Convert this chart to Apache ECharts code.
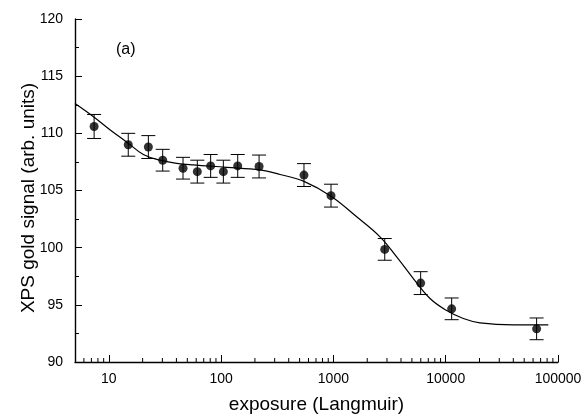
<!DOCTYPE html>
<html>
<head>
<meta charset="utf-8">
<script src="https://cdn.jsdelivr.net/npm/echarts@6/dist/echarts.min.js"></script>
<style>
html,body{margin:0;padding:0;background:#fff;}
#chart{width:583px;height:415px;}
</style>
</head>
<body>
<div id="chart"></div>
<script>
// measured points (exposure, signal, error)
var exposure=[7.4,14.9,22.5,30.2,45.8,61.4,80.7,104.7,140.6,217.8,547,952,2865,5985,11300,64500];
var signal=[110.6,109.0,108.8,107.65,106.95,106.65,107.15,106.65,107.15,107.1,106.35,104.55,99.85,96.9,94.65,92.9];
var errUp=[1.05,1.0,1.0,0.95,0.95,1.0,1.0,1.0,1.0,1.0,1.0,1.0,0.95,1.0,0.95,0.95];
var errDown=[1.05,1.0,1.0,0.95,0.95,1.0,1.0,1.0,1.0,1.0,1.0,1.0,0.95,1.0,0.95,0.95];

// fitted curve
var fitX=[5,7.3,10.3,14.4,20.3,28.6,40.3,56.6,112,222,335,547,952,1612,2600,3660,5150,7250,10200,14350,20200,40000,82000];
var fitY=[112.6,111.45,110.3,109.25,108.15,107.65,107.38,107.24,107.03,106.8,106.4,105.8,104.5,102.7,100.95,99.2,97.3,95.55,94.5,93.8,93.42,93.24,93.24];

// log axis minor ticks
var minorX=[6,7,8,9,20,30,40,50,60,70,80,90,200,300,400,500,600,700,800,900,
    2000,3000,4000,5000,6000,7000,8000,9000,20000,30000,40000,50000,60000,70000,80000,90000];

var yMin=90, yMax=120, yStep=5;

var chart=echarts.init(document.getElementById("chart"));

var pts=[], bars=[], fit=[], minor=[];
for(var i=0;i<exposure.length;i++){
    pts.push([exposure[i],signal[i]]);
    bars.push([exposure[i],signal[i]-errDown[i],signal[i]+errUp[i]]);
}
for(var i=0;i<fitX.length;i++){
    fit.push([fitX[i],fitY[i]]);
}
for(var i=0;i<minorX.length;i++){
    minor.push([minorX[i],yMin]);
}

var axisLine={show:true,lineStyle:{color:"#000",width:1.4}};
var labelFont="Liberation Sans";

option={
    backgroundColor:"#fff",
    animation:false,
    title:{
        text:"(a)",
        left:111,
        top:37,
        textStyle:{fontFamily:labelFont,fontSize:16,fontWeight:"normal",color:"#000"}
    },
    graphic:[{
        type:"text",
        x:29,
        y:198,
        rotation:Math.PI/2,
        style:{
            text:"XPS gold signal (arb. units)",
            fontFamily:labelFont,
            fontSize:19,
            fill:"#000",
            align:"center",
            verticalAlign:"middle"
        }
    }],
    grid:{left:75,right:25,top:19,bottom:53,outerBoundsMode:"none",containLabel:false},
    xAxis:{
        type:"log",
        logBase:10,
        min:5,
        max:100000,
        name:"exposure (Langmuir)",
        nameLocation:"middle",
        nameGap:33,
        nameTextStyle:{fontFamily:labelFont,fontSize:19,color:"#000"},
        axisLine:axisLine,
        axisTick:{show:true,inside:true,length:7,lineStyle:{color:"#000",width:1}},
        axisLabel:{
            color:"#000",
            fontFamily:labelFont,
            fontSize:14,
            margin:10,
            formatter:function(v){
                if(v<9) return "";
                return String(Math.round(v));
            }
        },
        splitLine:{show:false}
    },
    yAxis:{
        type:"value",
        min:yMin,
        max:yMax,
        interval:yStep,
        axisLine:axisLine,
        axisTick:{show:true,inside:true,length:7,lineStyle:{color:"#000",width:1}},
        minorTick:{show:true,splitNumber:2,length:4,lineStyle:{color:"#000",width:1}},
        axisLabel:{color:"#000",fontFamily:labelFont,fontSize:14,margin:12},
        splitLine:{show:false}
    },
    series:[
        {
            name:"fit",
            type:"line",
            data:fit,
            smooth:0.4,
            showSymbol:false,
            lineStyle:{color:"#000",width:1.2},
            z:2
        },
        {
            name:"error",
            type:"custom",
            data:bars,
            renderItem:function(params,api){
                var x=api.value(0);
                var lo=api.coord([x,api.value(1)]);
                var hi=api.coord([x,api.value(2)]);
                var w=7;
                var st={stroke:"#000",lineWidth:1};
                return {
                    type:"group",
                    children:[
                        {type:"line",shape:{x1:lo[0],y1:lo[1],x2:hi[0],y2:hi[1]},style:st},
                        {type:"line",shape:{x1:lo[0]-w,y1:lo[1],x2:lo[0]+w,y2:lo[1]},style:st},
                        {type:"line",shape:{x1:hi[0]-w,y1:hi[1],x2:hi[0]+w,y2:hi[1]},style:st}
                    ]
                };
            },
            z:3
        },
        {
            name:"signal",
            type:"scatter",
            data:pts,
            symbol:"circle",
            symbolSize:9,
            itemStyle:{color:"#000"},
            z:4
        },
        {
            name:"minorTicks",
            type:"custom",
            data:minor,
            silent:true,
            renderItem:function(params,api){
                var p=api.coord([api.value(0),api.value(1)]);
                return {
                    type:"line",
                    shape:{x1:p[0],y1:p[1],x2:p[0],y2:p[1]-4},
                    style:{stroke:"#000",lineWidth:1}
                };
            },
            z:1
        }
    ]
};
chart.setOption(option);
</script>
</body>
</html>
